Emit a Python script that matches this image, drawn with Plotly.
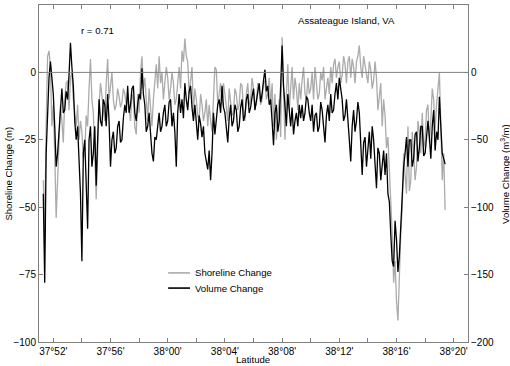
import plotly.graph_objects as go

# Latitude in arc-minutes north of 37°00'
lat_min = [51.3,
           51.4, 51.5, 51.6, 51.7, 51.8, 51.9, 52.0, 52.1, 52.2, 52.3,
           52.4, 52.5, 52.6, 52.7, 52.8, 52.9, 53.0, 53.1, 53.2, 53.3,
           53.4, 53.5, 53.6, 53.7, 53.8, 53.9, 54.0, 54.1, 54.2, 54.3,
           54.4, 54.5, 54.6, 54.7, 54.8, 54.9, 55.0, 55.1, 55.2, 55.3,
           55.4, 55.5, 55.6, 55.7, 55.8, 55.9, 56.0, 56.1, 56.2, 56.3,
           56.4, 56.5, 56.6, 56.7, 56.8, 56.9, 57.0, 57.1, 57.2, 57.3,
           57.4, 57.5, 57.6, 57.7, 57.8, 57.9, 58.0, 58.1, 58.2, 58.3,
           58.4, 58.5, 58.6, 58.7, 58.8, 58.9, 59.0, 59.1, 59.2, 59.3,
           59.4, 59.5, 59.6, 59.7, 59.8, 59.9, 60.0, 60.1, 60.2, 60.3,
           60.4, 60.5, 60.6, 60.7, 60.8, 60.9, 61.0, 61.1, 61.2, 61.3,
           61.4, 61.5, 61.6, 61.7, 61.8, 61.9, 62.0, 62.1, 62.2, 62.3,
           62.4, 62.5, 62.6, 62.7, 62.8, 62.9, 63.0, 63.1, 63.2, 63.3,
           63.4, 63.5, 63.6, 63.7, 63.8, 63.9, 64.0, 64.1, 64.2, 64.3,
           64.4, 64.5, 64.6, 64.7, 64.8, 64.9, 65.0, 65.1, 65.2, 65.3,
           65.4, 65.5, 65.6, 65.7, 65.8, 65.9, 66.0, 66.1, 66.2, 66.3,
           66.4, 66.5, 66.6, 66.7, 66.8, 66.9, 67.0, 67.1, 67.2, 67.3,
           67.4, 67.5, 67.6, 67.7, 67.8, 67.9, 68.0, 68.1, 68.2, 68.3,
           68.4, 68.5, 68.6, 68.7, 68.8, 68.9, 69.0, 69.1, 69.2, 69.3,
           69.4, 69.5, 69.6, 69.7, 69.8, 69.9, 70.0, 70.1, 70.2, 70.3,
           70.4, 70.5, 70.6, 70.7, 70.8, 70.9, 71.0, 71.1, 71.2, 71.3,
           71.4, 71.5, 71.6, 71.7, 71.8, 71.9, 72.0, 72.1, 72.2, 72.3,
           72.4, 72.5, 72.6, 72.7, 72.8, 72.9, 73.0, 73.1, 73.2, 73.3,
           73.4, 73.5, 73.6, 73.7, 73.8, 73.9, 74.0, 74.1, 74.2, 74.3,
           74.4, 74.5, 74.6, 74.7, 74.8, 74.9, 75.0, 75.1, 75.2, 75.3,
           75.4, 75.5, 75.6, 75.7, 75.8, 75.9, 76.0, 76.1, 76.2, 76.3,
           76.4, 76.5, 76.6, 76.7, 76.8, 76.9, 77.0, 77.1, 77.2, 77.3,
           77.4, 77.5, 77.6, 77.7, 77.8, 77.9, 78.0, 78.1, 78.2, 78.3,
           78.4, 78.5, 78.6, 78.7, 78.8, 78.9, 79.0, 79.1, 79.2, 79.3,
           79.4]

# Shoreline change (m), left axis
shoreline = [-40,
             -60, -20, 6, 8, 2, -20, -12, -30, -54, -40,
             -28, -12, -18, -26, -10, -4, -3, -14, -2, 0,
             -10, -16, -20, -12, -25, -18, -22, -32, -30, -16,
             -20, -6, 5, -10, -15, -30, -47, -30, -12, -4,
             -8, -14, -18, -4, 5, -10, -5, 0, -10, -14,
             -12, -6, -9, -13, -11, -6, -8, -12, -10, -14,
             -18, -8, -10, -20, -23, -8, -15, 0, 6, -6,
             -2, -10, -18, -6, -14, -20, -10, -4, 3, -6,
             6, -4, 0, -10, -5, 2, -2, -10, -6, 0,
             -4, -12, -10, -2, 2, -6, 8, 4, 12.6, 6,
             4, -8, -2, 2, -15, -6, -10, -16, -18, -8,
             -12, -18, -15, -10, -20, -12, -18, -22, -10, 2,
             1, -12, -8, -4, -12, -4, -8, -14, -18, -6,
             -10, -16, -15, -6, -8, -14, -12, -4, -5, -14,
             -18, -8, -4, -12, -10, -2, -6, -12, -12, -4,
             -6, -12, -10, -4, -3, -10, -8, -2, -12, -4,
             -20, -8, -25, -16, -10, -24, 13, -6, -25, -8,
             3, -14, -5, 2, -10, -2, -6, -14, -4, -10,
             -3, 2, -8, -10, -2, -8, -6, 0, -10, 2,
             -4, -10, -8, 0, -3, 2, -10, -6, -2, -8,
             2, -4, 3, 5, -2, 2, 4, -4, -1, 6,
             3, -4, 4, 6, -2, 5, 2, -4, 4, 6,
             10, 2, -2, 6, 2, -2, -4, 4, 1, -6,
             -3, 4, -2, -14, -10, -4, -20, -10, -16, -28,
             -24, -40, -48, -60, -78, -70, -85, -92, -75, -60,
             -50, -30, -38, -45, -20, -44, -40, -22, -30, -40,
             -35, -18, -22, -30, -15, -28, -25, -14, -12, -26,
             -18, -6, -10, -22, -12, -4, 0, -20, -40, -30,
             -51]

# Volume change (m^3/m), right axis
volume = [-90,
          -156, -60, -30, -4, 8, -2, -16, -40, -70, -60,
          -44, -24, -12, -30, -28, -14, -20, -2, 22, 4,
          -10, -36, -50, -40, -70, -90, -140, -60, -50, -80,
          -116, -50, -40, -70, -60, -40, -84, -50, -20, -36,
          -40, -20, -24, -40, -16, -36, -70, -50, -44, -60,
          -56, -40, -36, -52, -50, -34, -24, -30, -10, -30,
          -24, -12, -10, -30, -36, -24, -16, -20, 3, -16,
          -24, -44, -40, -30, -44, -60, -66, -48, -50, -40,
          -30, -44, -40, -30, -24, -40, -36, -22, -20, -40,
          -30, -44, -70, -30, -16, -30, -20, -34, -8, -20,
          -28, -14, -10, -26, -36, -24, -40, -50, -32, -38,
          -48, -40, -60, -66, -72, -58, -80, -60, -30, -46,
          -36, -24, -20, -30, -10, -26, -30, -40, -52, -34,
          -24, -40, -36, -24, -28, -44, -40, -26, -20, -36,
          -32, -20, -16, -30, -26, -18, -12, -28, -20, -12,
          -8, -22, -16, -6, 2, -14, -10, -24, -20, -36,
          -54, -30, -24, -44, -36, -10, 20, -10, -30, -40,
          -16, -32, -40, -26, -46, -36, -30, -40, -24, -34,
          -24, -36, -30, -18, -20, -30, -36, -24, -44, -32,
          -30, -44, -40, -22, -28, -40, -52, -32, -24, -36,
          -16, -30, -28, -16, -8, -20, -4, -12, -20, -36,
          -32, -20, -40, -50, -66, -40, -28, -44, -36, -22,
          -30, -50, -76, -52, -48, -70, -56, -44, -64, -40,
          -50, -70, -86, -56, -60, -80, -68, -58, -76, -60,
          -90, -96, -120, -140, -144, -110, -124, -148, -136, -110,
          -90, -70, -60, -48, -70, -50, -50, -70, -64, -46,
          -44, -66, -56, -40, -40, -62, -60, -50, -36, -48,
          -64, -40, -28, -58, -44, -50, -18, -40, -60, -64,
          -68]

tick_vals = [52, 56, 60, 64, 68, 72, 76, 80]
tick_text = ["37°52'", "37°56'", "38°00'", "38°04'", "38°08'", "38°12'", "38°16'", "38°20'"]

GREY = "#ababab"
FRAME = "#808080"
FONT = "Liberation Sans, Arial, Helvetica, sans-serif"
TXT = 9.6

fig = go.Figure()
fig.add_trace(go.Scatter(x=lat_min, y=shoreline, mode="lines", name="Shoreline Change",
                         line=dict(color=GREY, width=1.3), yaxis="y", showlegend=False))
fig.add_trace(go.Scatter(x=lat_min, y=volume, mode="lines", name="Volume Change",
                         line=dict(color="black", width=1.3), yaxis="y2", showlegend=False))

axis_common = dict(showgrid=False, zeroline=False, showline=True, linecolor=FRAME,
                   linewidth=1, ticks="inside", tickcolor=FRAME, ticklen=4,
                   automargin=False,
                   tickfont=dict(size=10, color="black", family=FONT))

# zero reference line + hand-drawn legend (short line samples as in the reference)
shapes = [dict(type="line", xref="paper", yref="y", x0=0, x1=1, y0=0, y1=0,
               line=dict(color=FRAME, width=1), layer="above")]
annotations = []
legend_items = [("Shoreline Change", GREY, 0.205), ("Volume Change", "black", 0.160)]
for label, col, yy in legend_items:
    shapes.append(dict(type="line", xref="paper", yref="paper", x0=0.301, x1=0.352,
                       y0=yy, y1=yy, line=dict(color=col, width=1.6), layer="above"))
    annotations.append(dict(text=label, x=0.359, y=yy, xref="paper", yref="paper",
                            showarrow=False, xanchor="left", yanchor="middle",
                            font=dict(size=TXT)))

annotations += [
    dict(text="r = 0.71", x=0.136, y=0.923, xref="paper", yref="paper",
         showarrow=False, font=dict(size=TXT), xanchor="center", yanchor="middle"),
    dict(text="Assateague Island, VA", x=0.716, y=0.955, xref="paper", yref="paper",
         showarrow=False, font=dict(size=TXT), xanchor="center", yanchor="middle"),
    dict(text="Latitude", x=0.499, y=-0.053, xref="paper", yref="paper",
         showarrow=False, font=dict(size=TXT), xanchor="center", yanchor="middle"),
    dict(text="Shoreline Change (m)", x=-0.072, y=0.5, xref="paper", yref="paper",
         showarrow=False, font=dict(size=TXT), textangle=-90,
         xanchor="center", yanchor="middle"),
    dict(text="Volume Change (m<sup>3</sup>/m)", x=1.085, y=0.5, xref="paper", yref="paper",
         showarrow=False, font=dict(size=TXT), textangle=-90,
         xanchor="center", yanchor="middle"),
]

fig.update_layout(
    width=510, height=366,
    margin=dict(l=39, r=42, t=5, b=24),
    paper_bgcolor="white", plot_bgcolor="white",
    font=dict(family=FONT, size=TXT, color="black"),
    showlegend=False,
    xaxis=dict(range=[51, 81], tickvals=tick_vals, ticktext=tick_text,
               mirror="allticks",
               minor=dict(tick0=52, dtick=2, ticks="inside", ticklen=4,
                          tickcolor=FRAME, showgrid=False),
               **axis_common),
    yaxis=dict(range=[-100, 25], tickvals=[-100, -75, -50, -25, 0, 25], **axis_common),
    yaxis2=dict(range=[-200, 50], tickvals=[-200, -150, -100, -50, 0, 50],
                overlaying="y", side="right", **axis_common),
    shapes=shapes,
    annotations=annotations,
)

fig.write_html("out.html", config={"displayModeBar": False},
               post_script="document.body.style.margin='0';document.body.style.padding='0';")
